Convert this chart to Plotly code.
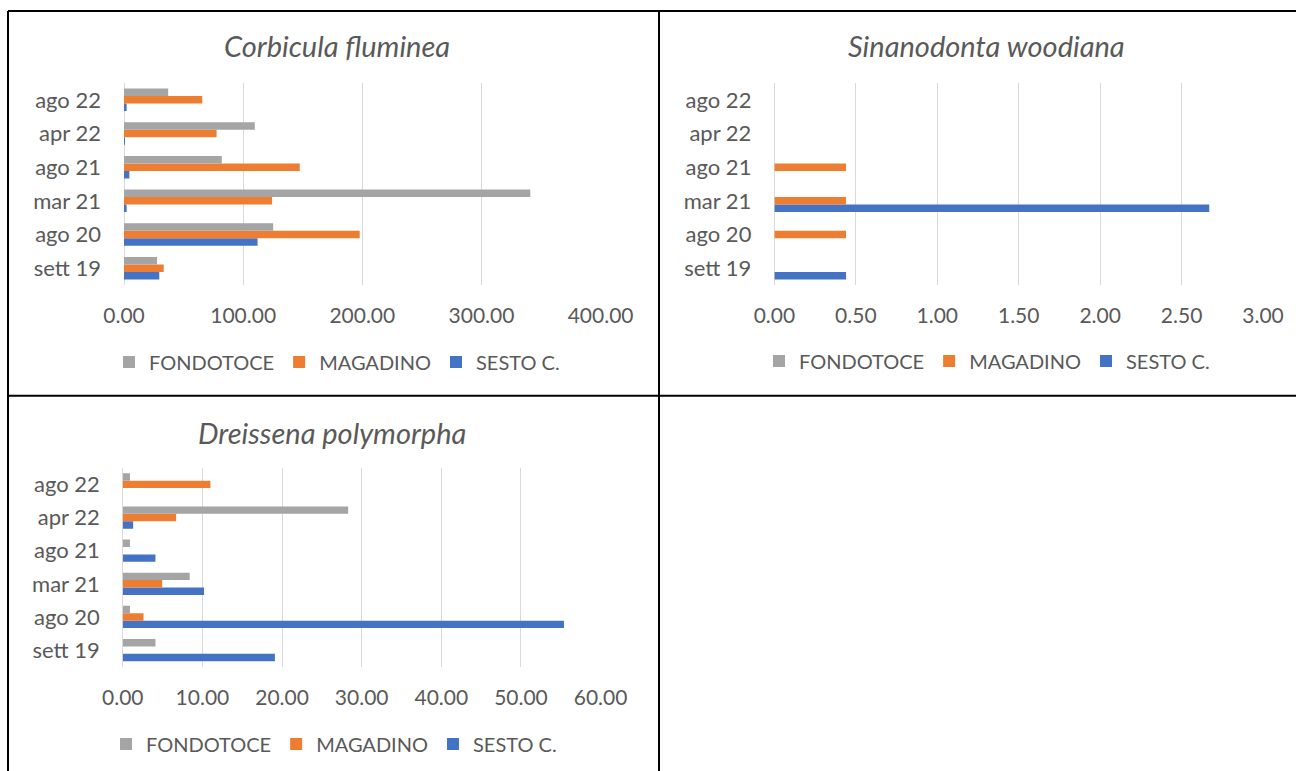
import plotly.graph_objects as go

# Sampling campaigns (bottom to top on the category axis)
categories = ["sett 19", "ago 20", "mar 21", "ago 21", "apr 22", "ago 22"]
sites = ["FONDOTOCE", "MAGADINO", "SESTO C."]

# Corbicula fluminea
corbicula_fondotoce = [27.7, 125.2, 341.0, 82.1, 109.8, 37.1]
corbicula_magadino = [33.3, 197.8, 124.3, 147.5, 77.7, 65.7]
corbicula_sesto = [29.6, 112.1, 2.2, 4.5, 0.5, 2.2]

# Sinanodonta woodiana
sinanodonta_fondotoce = [0, 0, 0, 0, 0, 0]
sinanodonta_magadino = [None, 0.44, 0.44, 0.44, None, None]
sinanodonta_sesto = [0.44, None, 2.67, None, None, None]

# Dreissena polymorpha
dreissena_fondotoce = [4.1, 0.9, 8.4, 0.9, 28.3, 0.9]
dreissena_magadino = [None, 2.6, 4.95, None, 6.7, 11.0]
dreissena_sesto = [19.1, 55.4, 10.2, 4.1, 1.3, None]

W, H = 1296, 771
FONT = "Lato"
TEXT = "#595959"
GRID = "#D9D9D9"
COLORS = {"FONDOTOCE": "#A5A5A5", "MAGADINO": "#ED7D31", "SESTO C.": "#4472C4"}


def px_x(px):
    return px / W


def px_y(py):
    return 1 - py / H


panels = [
    dict(title="Corbicula fluminea", data=[corbicula_fondotoce, corbicula_magadino, corbicula_sesto],
         xr=[0, 400], dtick=100, xd=(124, 600.6), yd=(83, 285), tx=337, ty=45, lx=337, ly=362),
    dict(title="Sinanodonta woodiana", data=[sinanodonta_fondotoce, sinanodonta_magadino, sinanodonta_sesto],
         xr=[0, 3], dtick=0.5, xd=(774.4, 1263), yd=(83, 285), tx=986, ty=45, lx=987, ly=361),
    dict(title="Dreissena polymorpha", data=[dreissena_fondotoce, dreissena_magadino, dreissena_sesto],
         xr=[0, 60], dtick=10, xd=(122.8, 600.6), yd=(467.8, 666.7), tx=332, ty=432, lx=334, ly=744),
]

fig = go.Figure()
layout = dict(
    width=W, height=H, margin=dict(l=0, r=0, t=0, b=0, autoexpand=False),
    paper_bgcolor="white", plot_bgcolor="white",
    barmode="group", bargap=0.33, bargroupgap=0,
    showlegend=True, font=dict(family=FONT, color=TEXT),
)
annotations = []

for i, p in enumerate(panels, start=1):
    sfx = "" if i == 1 else str(i)
    leg = "legend" + sfx
    # SESTO first so it sits at the bottom of each group, FONDOTOCE on top
    for rank, (site, vals) in reversed(list(enumerate(zip(sites, p["data"]), start=1))):
        fig.add_trace(go.Bar(
            y=categories, x=vals, orientation="h", name=site,
            marker=dict(color=COLORS[site], line=dict(width=0)),
            xaxis="x" + sfx, yaxis="y" + sfx, legend=leg, legendrank=rank,
        ))
    layout["xaxis" + sfx] = dict(
        domain=[px_x(p["xd"][0]), px_x(p["xd"][1])], anchor="y" + sfx,
        range=p["xr"], dtick=p["dtick"], tick0=0, tickformat=".2f",
        showgrid=True, gridcolor=GRID, gridwidth=1,
        zeroline=True, zerolinecolor=GRID, zerolinewidth=1,
        showline=False, ticks="", ticklabelstandoff=16, automargin=False,
        tickfont=dict(family=FONT, size=21, color=TEXT), fixedrange=True,
    )
    layout["yaxis" + sfx] = dict(
        domain=[px_y(p["yd"][1]), px_y(p["yd"][0])], anchor="x" + sfx,
        type="category", categoryorder="array", categoryarray=categories,
        showgrid=False, zeroline=False, showline=False, ticks="",
        ticklabelstandoff=22, automargin=False,
        tickfont=dict(family=FONT, size=22, color=TEXT), fixedrange=True,
    )
    layout[leg] = dict(
        orientation="h", x=px_x(p["lx"]), xanchor="center",
        y=px_y(p["ly"]), yanchor="middle",
        font=dict(family=FONT, size=20, color=TEXT),
        bgcolor="rgba(0,0,0,0)", itemclick=False, itemdoubleclick=False,
    )
    annotations.append(dict(
        text="<i>" + p["title"] + "</i>", x=px_x(p["tx"]), y=px_y(p["ty"]),
        xref="paper", yref="paper", xanchor="center", yanchor="middle",
        showarrow=False, font=dict(family=FONT, size=29, color=TEXT),
    ))

layout["annotations"] = annotations

# Table frame around the chart cells
frame = [
    (8, 11, W, 11),        # top rule
    (8, 11, 8, H),         # left rule
    (659, 11, 659, H),     # middle column rule
    (8, 395.7, W, 395.7),  # middle row rule
]
layout["shapes"] = [
    dict(type="line", xref="paper", yref="paper",
         x0=px_x(a), y0=px_y(b), x1=px_x(c), y1=px_y(d),
         line=dict(color="black", width=2))
    for a, b, c, d in frame
]

fig.update_layout(**layout)
fig.write_html("out.html")
